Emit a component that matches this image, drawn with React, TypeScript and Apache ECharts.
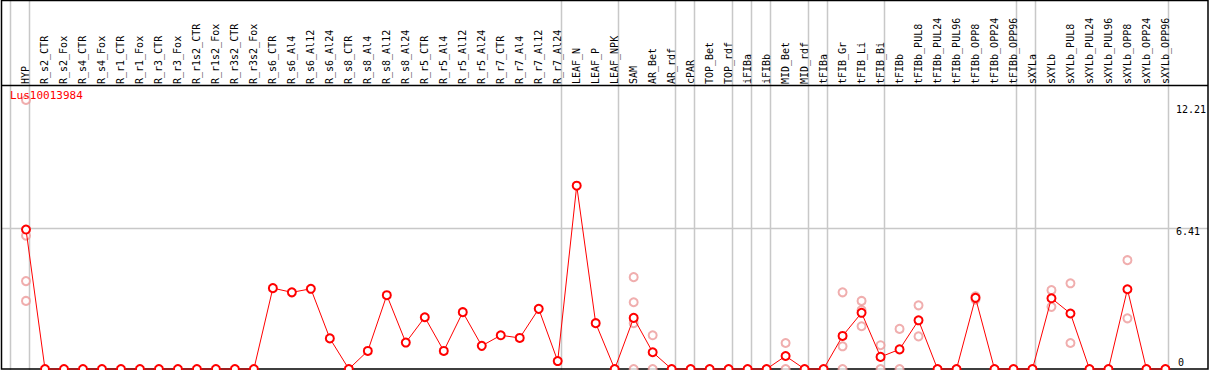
import React, { useEffect, useRef } from "react";
import * as echarts from "echarts";

const categories = [
  "HYP", "R_s2_CTR", "R_s2_Fox", "R_s4_CTR", "R_s4_Fox", "R_r1_CTR", "R_r1_Fox", "R_r3_CTR", "R_r3_Fox",
  "R_r1s2_CTR", "R_r1s2_Fox", "R_r3s2_CTR", "R_r3s2_Fox", "R_s6_CTR", "R_s6_Al4", "R_s6_Al12", "R_s6_Al24",
  "R_s8_CTR", "R_s8_Al4", "R_s8_Al12", "R_s8_Al24", "R_r5_CTR", "R_r5_Al4", "R_r5_Al12", "R_r5_Al24",
  "R_r7_CTR", "R_r7_Al4", "R_r7_Al12", "R_r7_Al24", "LEAF_N", "LEAF_P", "LEAF_NPK", "SAM", "AR_Bet", "AR_rdf",
  "cPAR", "TOP_Bet", "TOP_rdf", "iFIBa", "iFIBb", "MID_Bet", "MID_rdf", "tFIBa", "tFIB_Gr", "tFIB_Li", "tFIB_Bi",
  "tFIBb", "tFIBb_PUL8", "tFIBb_PUL24", "tFIBb_PUL96", "tFIBb_OPP8", "tFIBb_OPP24", "tFIBb_OPP96",
  "sXYLa", "sXYLb", "sXYLb_PUL8", "sXYLb_PUL24", "sXYLb_PUL96", "sXYLb_OPP8", "sXYLb_OPP24", "sXYLb_OPP96",
];

const meanValues = [
  6.33, 0, 0, 0, 0, 0, 0, 0, 0, 0, 0, 0, 0, 3.67, 3.48, 3.64, 1.39,
  0, 0.82, 3.35, 1.2, 2.35, 0.82, 2.58, 1.05,
  1.53, 1.41, 2.73, 0.36, 8.32, 2.08, 0, 2.32, 0.76, 0,
  0, 0, 0, 0, 0, 0.59, 0, 0, 1.5, 2.55, 0.55,
  0.89, 2.21, 0, 0, 3.23, 0, 0,
  0, 3.21, 2.52, 0, 0, 3.62, 0, 0,
];

const replicateCategories = ["HYP", "SAM", "AR_Bet", "MID_Bet", "tFIB_Gr", "tFIB_Li", "tFIB_Bi", "tFIBb", "tFIBb_PUL8", "tFIBb_OPP8", "sXYLb", "sXYLb_PUL8", "sXYLb_OPP8"];
const replicateValues = [
  [12.21, 6.05, 3.99, 3.09],
  [4.17, 3.03, 2.08, 0],
  [1.53, 0],
  [1.18, 0],
  [3.48, 1.03, 0],
  [3.09, 2.67, 1.94],
  [1.08, 0],
  [1.82, 0],
  [2.89, 1.48],
  [3.3, 3.15],
  [3.58, 2.82],
  [3.89, 1.18],
  [4.94, 2.3],
];

const yTickValues = [0, 6.41, 12.21];
const gridLineValue = 6.41;
const groupStarts = ["HYP", "R_s2_CTR", "LEAF_N", "SAM", "cPAR", "TOP_Bet", "iFIBa", "iFIBb", "MID_Bet", "tFIBa", "tFIB_Gr", "tFIBb", "sXYLa", "sXYLb"];

const FONT = "DejaVu Sans Mono";

export default function App() {
  const ref = useRef<HTMLDivElement>(null);
  useEffect(() => {
    document.body.style.margin = "0";
    const chart = echarts.init(ref.current!, null, { renderer: "svg" });
    const scatterData: [string, number][] = [];
    replicateCategories.forEach((c, i) => replicateValues[i].forEach((v) => scatterData.push([c, v])));
    const option: any = {
      animation: false,
      title: {
        text: "Lus10013984",
        left: 10,
        top: 90,
        padding: 0,
        textStyle: { color: "#ff0000", fontSize: 11, fontFamily: FONT, fontWeight: "normal" },
      },
      grid: { left: 16.5, right: 31.5, top: 100, bottom: 1 },
      xAxis: {
        type: "category",
        data: categories,
        position: "top",
        boundaryGap: true,
        axisLine: { show: false },
        axisTick: { show: false },
        splitLine: { show: false },
        axisLabel: {
          interval: 0,
          rotate: 90,
          margin: 16,
          align: "left",
          verticalAlign: "middle",
          fontFamily: FONT,
          fontSize: 10,
          color: "#000",
        },
      },
      yAxis: {
        type: "value",
        min: 0,
        max: 12.21,
        position: "right",
        axisLine: { show: false },
        axisTick: { show: false },
        splitLine: { show: false },
        axisLabel: {
          customValues: yTickValues,
          margin: 1,
          align: "left",
          fontFamily: FONT,
          fontSize: 10,
          color: "#000",
          formatter: (v: number) => (v === 0 ? "{z|0}" : v > 10 ? "{h|" + v + "}" : "{m|" + v + "}"),
          rich: {
            z: { padding: [0, 0, 14, 2], fontFamily: FONT, fontSize: 10, color: "#000" },
            m: { padding: [8, 0, 0, 0], fontFamily: FONT, fontSize: 10, color: "#000" },
            h: { padding: [18, 0, 0, 0], fontFamily: FONT, fontSize: 10, color: "#000" },
          },
        },
      },
      series: [
        {
          type: "scatter",
          data: scatterData,
          symbol: "emptyCircle",
          symbolSize: 8,
          clip: false,
          z: 2,
          itemStyle: { color: "#ec9a9a", borderColor: "#ec9a9a", borderWidth: 1.3 },
        },
        {
          type: "line",
          data: meanValues,
          symbol: "emptyCircle",
          symbolSize: 8,
          clip: false,
          z: 3,
          lineStyle: { color: "#ff0000", width: 1 },
          itemStyle: { color: "#ff0000", borderColor: "#ff0000", borderWidth: 1.4 },
        },
      ],
    };
    chart.setOption(option);
    const x0 = chart.convertToPixel({ xAxisIndex: 0 }, 0) as number;
    const x1 = chart.convertToPixel({ xAxisIndex: 0 }, 1) as number;
    const band = x1 - x0;
    const gy = chart.convertToPixel({ yAxisIndex: 0 }, gridLineValue) as number;
    const sepXs = groupStarts.map((c) => x0 + categories.indexOf(c) * band - 16);
    sepXs.push(x0 + categories.length * band - 16);
    const graphic: any[] = sepXs.map((x) => ({
      type: "line",
      z: 0,
      shape: { x1: Math.round(x) + 0.5, y1: 0, x2: Math.round(x) + 0.5, y2: 370 },
      style: { stroke: "#c8c8c8", lineWidth: 1.5 },
    }));
    graphic.push({
      type: "line",
      z: 0,
      shape: { x1: 1, y1: Math.round(gy) + 0.5, x2: 1208, y2: Math.round(gy) + 0.5 },
      style: { stroke: "#c8c8c8", lineWidth: 1.5 },
    });
    graphic.push({
      type: "line",
      z: 1,
      shape: { x1: 1, y1: 85.5, x2: 1208, y2: 85.5 },
      style: { stroke: "#000", lineWidth: 1.5 },
    });
    graphic.push({
      type: "rect",
      z: 1,
      shape: { x: 1.5, y: 0.5, width: 1206.5, height: 368.5 },
      style: { stroke: "#000", fill: "none", lineWidth: 1.5 },
    });
    chart.setOption({ graphic });
    return () => chart.dispose();
  }, []);
  return <div ref={ref} style={{ width: 1209, height: 370 }} />;
}
